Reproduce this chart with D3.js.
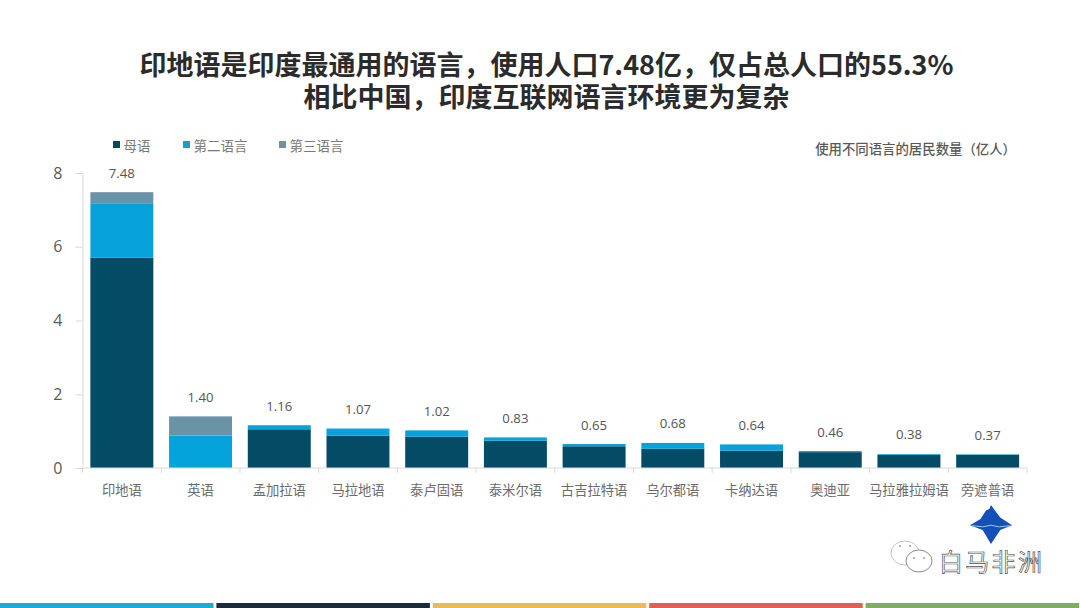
<!DOCTYPE html>
<html><head><meta charset="utf-8">
<script src="https://cdn.jsdelivr.net/npm/d3@7"></script>
<style>html,body{margin:0;padding:0;background:#fff}svg{display:block}</style>
</head><body><svg id="c" width="1080" height="608"></svg>
<script>
const titleLines = ["印地语是印度最通用的语言，使用人口7.48亿，仅占总人口的55.3%","相比中国，印度互联网语言环境更为复杂"];
const unitNote = "使用不同语言的居民数量（亿人）";
const categories = ["印地语","英语","孟加拉语","马拉地语","泰卢固语","泰米尔语","古吉拉特语","乌尔都语","卡纳达语","奥迪亚","马拉雅拉姆语","旁遮普语"];
const seriesNames = ["母语","第二语言","第三语言"];
const seriesColors = ["#044c66","#05a2dc","#6b93a8"];
const legendColors = ["#0d4558","#1d9ccc","#74919b"];
const nativeVals = [5.70,0,1.05,0.88,0.85,0.74,0.59,0.52,0.47,0.43,0.36,0.36];
const secondVals = [1.48,0.88,0.11,0.19,0.17,0.09,0.06,0.16,0.17,0.03,0.02,0.01];
const thirdVals  = [0.30,0.52,0,0,0,0,0,0,0,0,0,0];
const totalLabels = ["7.48","1.40","1.16","1.07","1.02","0.83","0.65","0.68","0.64","0.46","0.38","0.37"];
const yTicks = [0,2,4,6,8];
const stripColors = ["#1fa9d6","#1c2b3a","#eeb95a","#de6250","#7fae5f"];

const FONT = '"Noto Sans CJK SC","Open Sans",sans-serif';
const NUM = '"Open Sans","Noto Sans CJK SC",sans-serif';
const svg = d3.select("#c").style("font-family",FONT);

const y = d3.scaleLinear().domain([0,8]).range([468,173]);
const x = d3.scaleBand().domain(categories).range([82.5,1027]).paddingInner(0.2).paddingOuter(0.1);
const cx = c => x(c)+x.bandwidth()/2;

svg.append("text").attr("text-anchor","middle")
  .attr("font-size",27).attr("font-weight",700).attr("fill","#2b2b2b")
  .selectAll("tspan").data(titleLines).join("tspan")
  .attr("x",546.5).attr("y",(d,i)=>i?107:75).text(d=>d);

const stacked = categories.map((c,i)=>{
  let s=0; return [nativeVals[i],secondVals[i],thirdVals[i]].map((v,k)=>{const r={c,k,y0:s,y1:s+v};s+=v;return r;});
}).flat().filter(d=>d.y1>d.y0);

svg.append("g").selectAll("rect").data(stacked).join("rect")
  .attr("x",d=>x(d.c)).attr("width",x.bandwidth())
  .attr("y",d=>y(d.y1)).attr("height",d=>y(d.y0)-y(d.y1))
  .attr("fill",d=>seriesColors[d.k]);

const axisColor="#d9d9d9";
const gy = svg.append("g").attr("transform","translate(82.5,0)")
  .call(d3.axisLeft(y).tickValues(yTicks).tickSize(7).tickPadding(13).tickFormat(d3.format("d")));
gy.select(".domain").attr("stroke",axisColor);
gy.selectAll("line").attr("stroke",axisColor);
gy.selectAll("text").attr("font-size",16).attr("font-family",NUM).attr("fill","#595959");

const gx = svg.append("g").attr("transform","translate(0,468)");
gx.append("line").attr("x1",82.5).attr("x2",1027).attr("stroke",axisColor);
gx.selectAll(".t").data(d3.range(0,13)).join("line").attr("class","t")
  .attr("x1",d=>82.5+d*x.step()).attr("x2",d=>82.5+d*x.step()).attr("y1",0).attr("y2",5).attr("stroke",axisColor);
gx.selectAll("text").data(categories).join("text")
  .attr("x",cx).attr("y",27).attr("text-anchor","middle")
  .attr("font-size",13.3).attr("fill","#6b6b6b").text(d=>d);

svg.append("g").selectAll("text").data(totalLabels).join("text")
  .attr("x",(d,i)=>cx(categories[i])).attr("y",d=>y(+d)-14.5).attr("text-anchor","middle")
  .attr("font-size",13.2).attr("font-family",NUM).attr("fill","#555").text(d=>d);

const legendX=[113,183,279];
const lg=svg.append("g").selectAll("g").data(seriesNames).join("g")
  .attr("transform",(d,i)=>`translate(${legendX[i]},141)`);
lg.append("rect").attr("width",7).attr("height",7).attr("fill",(d,i)=>legendColors[i]);
lg.append("text").attr("x",10.5).attr("y",9.7).attr("font-size",13.5).attr("fill","#7a7a7a").text(d=>d);

svg.append("text").attr("x",1016).attr("y",153.5).attr("text-anchor","end")
  .attr("font-size",13.4).attr("font-weight",500).attr("fill","#595959").text(unitNote);

// iceberg logo
const lx=d3.scaleLinear().domain([0,1]).range([970,1012]);
const ly=d3.scaleLinear().domain([0,1]).range([505,544]);
const lpath=d3.line().x(d=>lx(d[0])).y(d=>ly(d[1]));
svg.append("path").attr("d",lpath([[0,.52],[.25,.36],[.38,.14],[.46,.1],[.5,0],[.58,.12],[.72,.32],[1,.52],[.72,.64],[.5,1],[.3,.64]])+"Z").attr("fill","#1450b8");
svg.append("path").attr("d",lpath([[.05,.53],[.3,.56],[.5,.52],[.7,.56],[.95,.53]])).attr("fill","none").attr("stroke","#9cc8f0").attr("stroke-width",1);

// WeChat watermark
const wm=svg.append("g");
wm.append("ellipse").attr("cx",905).attr("cy",553).attr("rx",14).attr("ry",12).attr("fill","#fff").attr("stroke","#c4c4c4");
wm.append("ellipse").attr("cx",919).attr("cy",561).attr("rx",13).attr("ry",11).attr("fill","#fff").attr("stroke","#8a8a8a");
wm.append("g").selectAll("circle").data([[900,546],[910,546],[914,558],[924,558]]).join("circle")
  .attr("cx",d=>d[0]).attr("cy",d=>d[1]).attr("r",1).attr("fill","#999");
wm.append("text").attr("x",939).attr("y",571).attr("font-size",24).attr("letter-spacing",2.3).attr("fill","#fff").attr("stroke","#555").attr("stroke-width",.7).text("白马非洲");

svg.append("g").selectAll("rect").data(stripColors).join("rect")
  .attr("x",(d,i)=>i*216.4).attr("y",603).attr("width",213.5).attr("height",5).attr("fill",d=>d);
</script></body></html>
